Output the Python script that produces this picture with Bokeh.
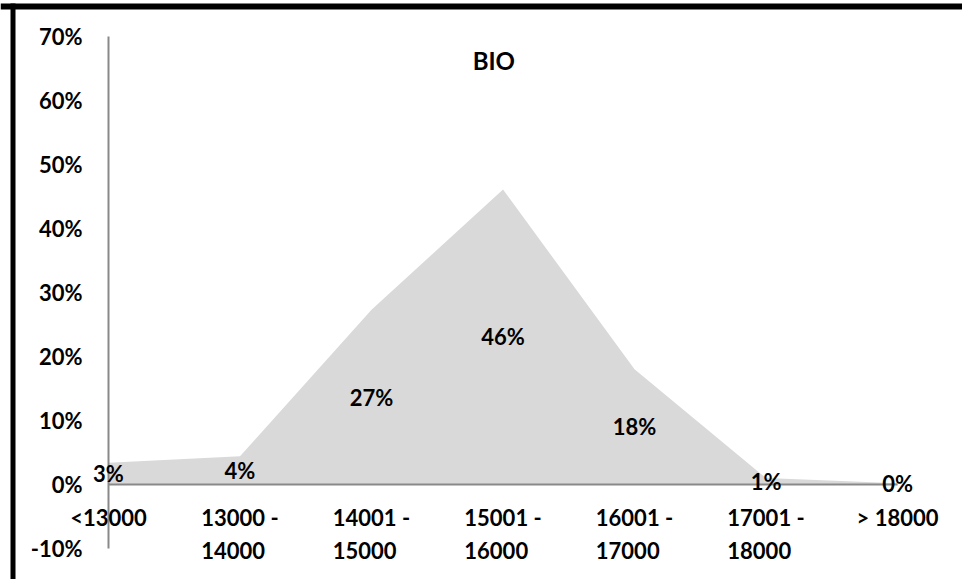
from bokeh.plotting import figure
from bokeh.models import (Range1d, FixedTicker, Label, LinearAxis, LabelSet,
                          ColumnDataSource, BoxAnnotation)
from bokeh.core.properties import value
from bokeh.embed import file_html
from bokeh.resources import INLINE

# ---- data ----
categories = ["<13000", "13000 -\n14000", "14001 -\n15000", "15001 -\n16000",
              "16001 -\n17000", "17001 -\n18000", "> 18000"]
shares = [3.4, 4.4, 27.3, 46.1, 18.0, 1.0, 0.2]
y_ticks = [-10, 0, 10, 20, 30, 40, 50, 60, 70]
title_text = "BIO"

FONT = "Lato"
PX_PER_UNIT = 6.4          # vertical pixels per percentage point
idx = list(range(len(categories)))

src = ColumnDataSource(dict(
    x=idx,
    share=shares,
    base=[0] * len(idx),
    mid=[v / 2 for v in shares],
    lab=[f"{v:.0f}%" for v in shares],
    cat=categories,
    cat_y=[-19 / PX_PER_UNIT] * len(idx),
))

W, H = 962, 579
p = figure(width=W, height=H, output_backend="svg", toolbar_location=None,
           x_axis_type=None, y_axis_type=None,
           x_range=Range1d(-0.8213, 6.494), y_range=Range1d(-14.84, 75.625),
           min_border_left=0, min_border_right=0, min_border_top=0, min_border_bottom=0,
           margin=0)
p.outline_line_color = None
p.background_fill_color = "white"
p.border_fill_color = "white"

yaxis = LinearAxis(ticker=FixedTicker(ticks=y_ticks), bounds=(y_ticks[0], y_ticks[-1]),
                   fixed_location=0,
                   major_label_overrides={t: f"{t}%" for t in y_ticks})
yaxis.axis_line_color = "#898989"
yaxis.axis_line_width = 2
yaxis.major_tick_in = 0
yaxis.major_tick_out = 0
yaxis.minor_tick_in = 0
yaxis.minor_tick_out = 0
yaxis.major_label_standoff = 26
yaxis.major_label_text_font = FONT
yaxis.major_label_text_font_style = "bold"
yaxis.major_label_text_font_size = "22px"
yaxis.major_label_text_color = "black"
p.add_layout(yaxis, "left")

# area
p.varea(x="x", y1="base", y2="share", source=src, fill_color="#d9d9d9")
# zero axis line
p.segment(x0=[idx[0]], y0=[0], x1=[idx[-1]], y1=[0], line_color="#898989", line_width=2)

# data labels
p.add_layout(LabelSet(x="x", y="mid", text="lab", source=src, text_font=value(FONT),
                      text_font_style="bold", text_font_size="22px", text_color="black",
                      text_align="center", text_baseline="middle"))

# category labels
p.add_layout(LabelSet(x="x", y="cat_y", text="cat", source=src, text_font=value(FONT),
                      text_font_style="bold", text_font_size="22px", text_color="black",
                      text_align="center", text_baseline="top", text_line_height=1.25))

# title
p.add_layout(Label(x=2.93, y=66.2, text=title_text, text_font=FONT, text_font_style="bold",
                   text_font_size="24px", text_color="black", text_align="center",
                   text_baseline="middle"))

# chart border (top and left edges visible); screen units measured from frame bottom-left
p.add_layout(BoxAnnotation(left=0, right=W, top=H - 3, bottom=H - 9, left_units="screen",
                           right_units="screen", top_units="screen", bottom_units="screen",
                           fill_color="black", fill_alpha=1, line_color=None))
p.add_layout(BoxAnnotation(left=10, right=15, top=H - 3, bottom=0, left_units="screen",
                           right_units="screen", top_units="screen", bottom_units="screen",
                           fill_color="black", fill_alpha=1, line_color=None))

open("out.html", "w").write(file_html(p, INLINE))
